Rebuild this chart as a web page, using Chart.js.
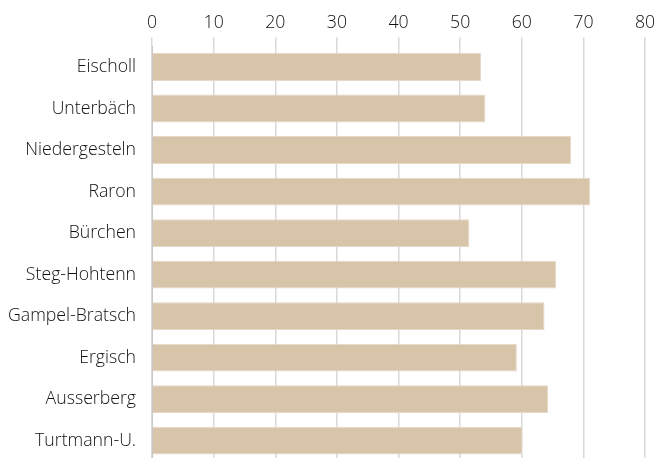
<!DOCTYPE html>
<html>
<head>
<meta charset="utf-8">
<script src="https://cdn.jsdelivr.net/npm/chart.js@4"></script>
<style>
  html, body { margin: 0; padding: 0; background: #fff; overflow: hidden; }
  canvas { display: block; }
</style>
</head>
<body>
<canvas id="myChart" width="670" height="488"></canvas>
<script>
// Gemeinden und Werte
const communes = ['Eischoll', 'Unterbäch', 'Niedergesteln', 'Raron', 'Bürchen',
  'Steg-Hohtenn', 'Gampel-Bratsch', 'Ergisch', 'Ausserberg', 'Turtmann-U.'];
const values = [53.4, 54.1, 68.0, 71.1, 51.5, 65.6, 63.7, 59.2, 64.3, 60.1];
const xTicks = [0, 10, 20, 30, 40, 50, 60, 70, 80];

const ctx = document.getElementById('myChart').getContext('2d');

const config = {
    type: 'bar',
    data: {
        labels: communes,
        datasets: [{
            data: values,
            backgroundColor: '#d8c4a9',
            borderColor: '#e6d9c8',
            borderWidth: 1,
            categoryPercentage: 0.67,
            barPercentage: 1,
        }],
    },
    options: {
        indexAxis: 'y',
        responsive: false,
        animation: false,
        layout: { padding: { top: 8, right: 25, left: -8, bottom: 0 } },
        plugins: {
            legend: { display: false },
            tooltip: { enabled: false },
        },
        scales: {
            x: {
                position: 'top',
                min: xTicks[0],
                max: xTicks[xTicks.length - 1],
                afterBuildTicks: (axis) => { axis.ticks = xTicks.map(v => ({ value: v })); },
                grid: { color: '#d9d9d9', lineWidth: 1.5, tickLength: 9, drawTicks: true },
                border: { display: false },
                ticks: {
                    color: '#111',
                    padding: 4,
                    font: { family: 'Open Sans', size: 17.7, weight: 300 },
                },
            },
            y: {
                grid: { display: false, drawTicks: false },
                border: { display: true, color: '#c8c8c8', width: 1 },
                ticks: {
                    color: '#111',
                    padding: 16,
                    font: { family: 'Open Sans', size: 17.7, weight: 300 },
                },
            },
        },
    },
};

new Chart(ctx, config);
</script>
</body>
</html>
